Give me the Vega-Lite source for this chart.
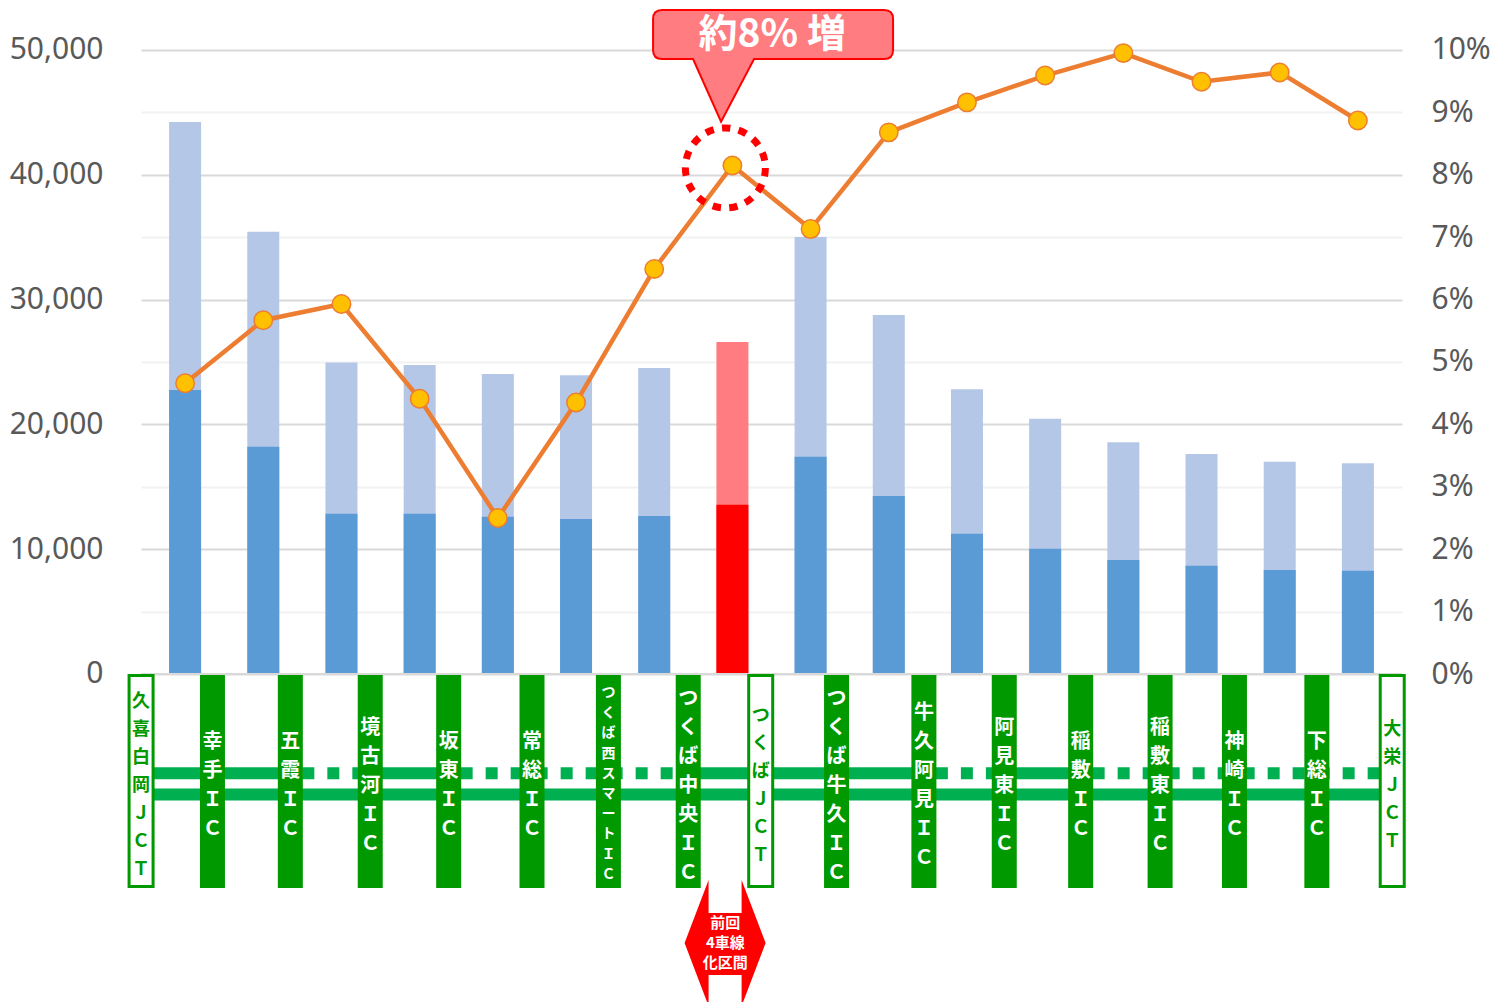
{
  "$schema": "https://vega.github.io/schema/vega-lite/v6.json",
  "width": 1261,
  "height": 1002,
  "autosize": {"type": "none"},
  "padding": {"left": 141, "top": 0, "right": 104, "bottom": 0},
  "background": "#ffffff",
  "config": {
    "view": {"stroke": null},
    "axis": {"labelFont": "Noto Sans", "labelFontSize": 30, "labelColor": "#595959"}
  },
  "datasets": {
    "traffic": [
      {"i": 1, "section": "久喜白岡JCT～幸手IC", "base": 22760, "total": 44230, "pct": 0.0466},
      {"i": 2, "section": "幸手IC～五霞IC", "base": 18210, "total": 35440, "pct": 0.0567},
      {"i": 3, "section": "五霞IC～境古河IC", "base": 12850, "total": 24950, "pct": 0.0593},
      {"i": 4, "section": "境古河IC～坂東IC", "base": 12850, "total": 24760, "pct": 0.0441},
      {"i": 5, "section": "坂東IC～常総IC", "base": 12600, "total": 24040, "pct": 0.0250},
      {"i": 6, "section": "常総IC～つくば西SIC", "base": 12420, "total": 23930, "pct": 0.0435},
      {"i": 7, "section": "つくば西SIC～つくば中央IC", "base": 12660, "total": 24520, "pct": 0.0649},
      {"i": 8, "section": "つくば中央IC～つくばJCT", "base": 13570, "total": 26600, "pct": 0.0815},
      {"i": 9, "section": "つくばJCT～つくば牛久IC", "base": 17410, "total": 35020, "pct": 0.0713},
      {"i": 10, "section": "つくば牛久IC～牛久阿見IC", "base": 14260, "total": 28770, "pct": 0.0868},
      {"i": 11, "section": "牛久阿見IC～阿見東IC", "base": 11240, "total": 22810, "pct": 0.0916},
      {"i": 12, "section": "阿見東IC～稲敷IC", "base": 10040, "total": 20460, "pct": 0.0959},
      {"i": 13, "section": "稲敷IC～稲敷東IC", "base": 9135, "total": 18565, "pct": 0.0995},
      {"i": 14, "section": "稲敷東IC～神崎IC", "base": 8680, "total": 17630, "pct": 0.0949},
      {"i": 15, "section": "神崎IC～下総IC", "base": 8335, "total": 17010, "pct": 0.0964},
      {"i": 16, "section": "下総IC～大栄JCT", "base": 8280, "total": 16880, "pct": 0.0887}
    ],
    "stations": [
      {"name": "久喜白岡ＪＣＴ", "type": "JCT", "pos": 0.437},
      {"name": "幸手ＩＣ", "type": "IC", "pos": 1.350},
      {"name": "五霞ＩＣ", "type": "IC", "pos": 2.346},
      {"name": "境古河ＩＣ", "type": "IC", "pos": 3.368},
      {"name": "坂東ＩＣ", "type": "IC", "pos": 4.371},
      {"name": "常総ＩＣ", "type": "IC", "pos": 5.437},
      {"name": "つくば西スマートＩＣ", "type": "SIC", "pos": 6.414},
      {"name": "つくば中央ＩＣ", "type": "IC", "pos": 7.435},
      {"name": "つくばＪＣＴ", "type": "JCT", "pos": 8.362},
      {"name": "つくば牛久ＩＣ", "type": "IC", "pos": 9.332},
      {"name": "牛久阿見ＩＣ", "type": "IC", "pos": 10.449},
      {"name": "阿見東ＩＣ", "type": "IC", "pos": 11.477},
      {"name": "稲敷ＩＣ", "type": "IC", "pos": 12.454},
      {"name": "稲敷東ＩＣ", "type": "IC", "pos": 13.470},
      {"name": "神崎ＩＣ", "type": "IC", "pos": 14.421},
      {"name": "下総ＩＣ", "type": "IC", "pos": 15.475},
      {"name": "大栄ＪＣＴ", "type": "JCT", "pos": 16.439}
    ],
    "lanes": [
      {"track": "lower", "status": "existing", "from": 0.437, "to": 16.439},
      {"track": "upper", "status": "done", "from": 0.437, "to": 2.346},
      {"track": "upper", "status": "planned", "from": 2.346, "to": 3.368},
      {"track": "upper", "status": "done", "from": 3.368, "to": 4.371},
      {"track": "upper", "status": "planned", "from": 4.371, "to": 7.435},
      {"track": "upper", "status": "done", "from": 7.435, "to": 10.449},
      {"track": "upper", "status": "planned", "from": 10.449, "to": 11.477},
      {"track": "upper", "status": "done", "from": 11.477, "to": 12.454},
      {"track": "upper", "status": "planned", "from": 12.454, "to": 16.439}
    ]
  },
  "layer": [
    {
      "layer": [
        {
          "data": {"name": "traffic"},
          "mark": {"type": "bar", "size": 32},
          "encoding": {
            "x": {"field": "i", "type": "quantitative", "scale": {"domain": [0.5, 16.5], "nice": false, "zero": false}, "axis": null},
            "y": {
              "field": "total", "type": "quantitative",
              "scale": {"domain": [-26282, 54006], "nice": false, "zero": false},
              "axis": {
                "title": null,
                "values": [0, 5000, 10000, 15000, 20000, 25000, 30000, 35000, 40000, 45000, 50000],
                "labelExpr": "datum.value % 10000 === 0 ? format(datum.value, ',') : ''",
                "grid": true,
                "gridColor": {"condition": {"test": "datum.value % 10000 === 0", "value": "#D9D9D9"}, "value": "#F2F2F2"},
                "gridWidth": 2,
                "ticks": false,
                "domain": false,
                "labelPadding": 38
              }
            },
            "y2": {"datum": 0},
            "color": {"condition": {"test": "datum.i === 8", "value": "#FF7C80"}, "value": "#B4C7E7"}
          }
        },
        {
          "data": {"name": "traffic"},
          "mark": {"type": "bar", "size": 32},
          "encoding": {
            "x": {"field": "i", "type": "quantitative"},
            "y": {"field": "base", "type": "quantitative"},
            "y2": {"datum": 0},
            "color": {"condition": {"test": "datum.i === 8", "value": "#FF0000"}, "value": "#5B9BD5"}
          }
        },
        {
          "data": {"values": [{}]},
          "mark": {"type": "rule", "color": "#D9D9D9", "strokeWidth": 2},
          "encoding": {"y": {"datum": 0}}
        },
        {
          "data": {"name": "lanes"},
          "transform": [{"filter": "datum.track === 'lower'"}],
          "mark": {"type": "rule", "color": "#00B050", "strokeWidth": 12},
          "encoding": {"x": {"field": "from", "type": "quantitative"}, "x2": {"field": "to"}, "y": {"datum": -9655}}
        },
        {
          "data": {"name": "lanes"},
          "transform": [{"filter": "datum.track === 'upper' && datum.status === 'done'"}],
          "mark": {"type": "rule", "color": "#00B050", "strokeWidth": 12},
          "encoding": {"x": {"field": "from", "type": "quantitative"}, "x2": {"field": "to"}, "y": {"datum": -7957}}
        },
        {
          "data": {"name": "lanes"},
          "transform": [{"filter": "datum.track === 'upper' && datum.status === 'planned'"}],
          "mark": {"type": "rule", "color": "#00B050", "strokeWidth": 12, "strokeDash": [12, 13], "strokeDashOffset": 13},
          "encoding": {"x": {"field": "from", "type": "quantitative"}, "x2": {"field": "to"}, "y": {"datum": -7957}}
        },
        {
          "data": {"name": "stations"},
          "transform": [{"filter": "datum.type !== 'JCT'"}],
          "mark": {"type": "bar", "size": 25, "color": "#009900"},
          "encoding": {"x": {"field": "pos", "type": "quantitative"}, "y": {"datum": -80}, "y2": {"datum": -17147}}
        },
        {
          "data": {"name": "stations"},
          "transform": [{"filter": "datum.type === 'JCT'"}],
          "mark": {"type": "bar", "size": 24, "fill": "#FFFFFF", "stroke": "#009900", "strokeWidth": 3},
          "encoding": {"x": {"field": "pos", "type": "quantitative"}, "y": {"datum": -120}, "y2": {"datum": -17030}}
        },
        {
          "data": {"name": "stations"},
          "transform": [{"filter": "datum.type === 'IC'"}],
          "mark": {"type": "text", "text": {"expr": "split(datum.name, '')"}, "dy": {"expr": "-(length(datum.name) - 1) * 14.5 + 2"}, "font": "Noto Sans CJK JP", "fontWeight": "bold", "fontSize": 20, "lineHeight": 29, "color": "#FFFFFF", "align": "center", "baseline": "middle"},
          "encoding": {"x": {"field": "pos", "type": "quantitative"}, "y": {"datum": -8814}}
        },
        {
          "data": {"name": "stations"},
          "transform": [{"filter": "datum.type === 'SIC'"}],
          "mark": {"type": "text", "text": {"expr": "split(datum.name, '')"}, "dy": {"expr": "-(length(datum.name) - 1) * 10.1"}, "font": "Noto Sans CJK JP", "fontWeight": "bold", "fontSize": 14, "lineHeight": 20.2, "color": "#FFFFFF", "align": "center", "baseline": "middle"},
          "encoding": {"x": {"field": "pos", "type": "quantitative"}, "y": {"datum": -8814}}
        },
        {
          "data": {"name": "stations"},
          "transform": [{"filter": "datum.type === 'JCT'"}],
          "mark": {"type": "text", "text": {"expr": "split(datum.name, '')"}, "dy": {"expr": "-(length(datum.name) - 1) * 14 + 2"}, "font": "Noto Sans CJK JP", "fontWeight": "bold", "fontSize": 18, "lineHeight": 28, "color": "#009900", "align": "center", "baseline": "middle"},
          "encoding": {"x": {"field": "pos", "type": "quantitative"}, "y": {"datum": -8814}}
        },
        {
          "data": {"values": [{}]},
          "mark": {"type": "point", "shape": "M-0.635,0L-0.254,-1L-0.254,-0.476L0.27,-0.476L0.27,-1L0.651,0L0.27,1L0.27,0.508L-0.254,0.508L-0.254,1Z", "filled": true, "fill": "#FF0000", "strokeWidth": 0, "size": 15876, "opacity": 1},
          "encoding": {"x": {"datum": 7.9}, "y": {"datum": -21554}}
        },
        {
          "data": {"values": [{}]},
          "mark": {"type": "text", "text": ["前回", "4車線", "化区間"], "dy": -20, "font": "Noto Sans CJK JP", "fontWeight": "bold", "fontSize": 15, "lineHeight": 20, "color": "#FFFFFF", "align": "center", "baseline": "middle"},
          "encoding": {"x": {"datum": 7.91}, "y": {"datum": -21554}}
        }
      ]
    },
    {
      "layer": [
        {
          "data": {"name": "traffic"},
          "mark": {"type": "line", "color": "#ED7D31", "strokeWidth": 4.5},
          "encoding": {
            "x": {"field": "i", "type": "quantitative"},
            "y": {
              "field": "pct", "type": "quantitative",
              "scale": {"domain": [-0.05256, 0.10801], "nice": false, "zero": false},
              "axis": {
                "title": null,
                "orient": "right",
                "values": [0, 0.01, 0.02, 0.03, 0.04, 0.05, 0.06, 0.07, 0.08, 0.09, 0.1],
                "format": ".0%",
                "grid": false,
                "ticks": false,
                "domain": false,
                "labelPadding": 29
              }
            }
          }
        },
        {
          "data": {"name": "traffic"},
          "mark": {"type": "point", "filled": true, "fill": "#FFC000", "stroke": "#ED7D31", "strokeWidth": 1.5, "size": 340, "opacity": 1},
          "encoding": {"x": {"field": "i", "type": "quantitative"}, "y": {"field": "pct", "type": "quantitative"}}
        },
        {
          "data": {"values": [{}]},
          "mark": {"type": "point", "shape": "circle", "filled": false, "stroke": "#FF0000", "strokeWidth": 7, "strokeDash": [8.4, 8.4], "size": 6400, "opacity": 1},
          "encoding": {"x": {"datum": 7.91}, "y": {"datum": 0.0811}}
        },
        {
          "data": {"values": [{}]},
          "mark": {"type": "point", "shape": "M-0.925,-0.2042L0.925,-0.2042Q1,-0.2042,1,-0.1292L1,0.1292Q1,0.2042,0.925,0.2042L-0.1583,0.2042L-0.4333,0.7267L-0.6667,0.2042L-0.925,0.2042Q-1,0.2042,-1,0.1292L-1,-0.1292Q-1,-0.2042,-0.925,-0.2042Z", "filled": true, "fill": "#FF7C80", "stroke": "#FF0000", "strokeWidth": 2, "size": 57600, "opacity": 1},
          "encoding": {"x": {"datum": 8.52}, "y": {"datum": 0.10248}}
        },
        {
          "data": {"values": [{}]},
          "mark": {"type": "text", "text": "約8% 増", "font": "Noto Sans CJK JP", "fontWeight": "bold", "fontSize": 39, "color": "#FFFFFF", "align": "center", "baseline": "middle"},
          "encoding": {"x": {"datum": 8.51}, "y": {"datum": 0.1024}}
        }
      ]
    }
  ],
  "resolve": {"scale": {"y": "independent"}}
}
